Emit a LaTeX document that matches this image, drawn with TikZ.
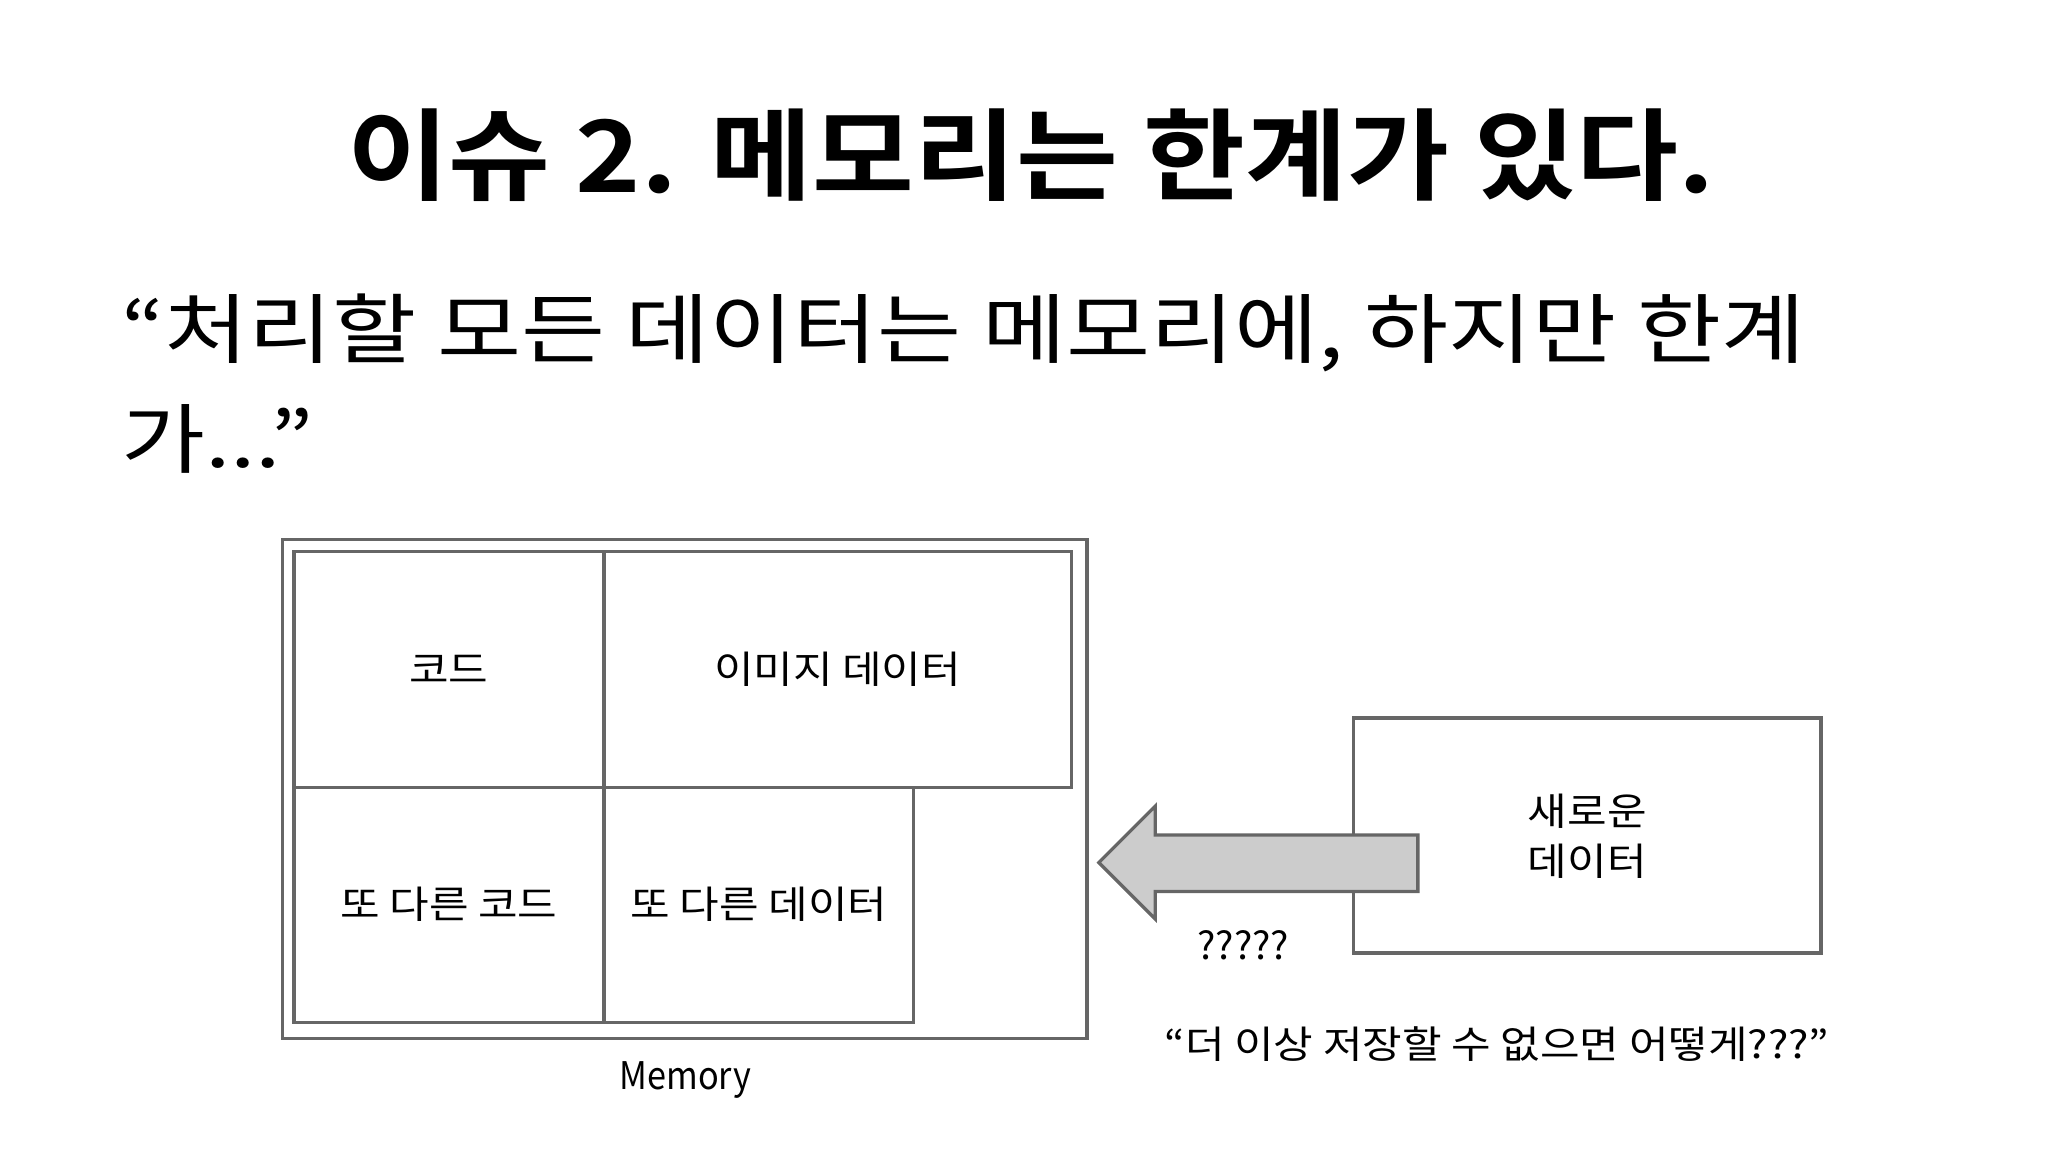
\documentclass[tikz,border=0pt]{standalone}
\usepackage{fontspec}
\setmainfont{Noto Sans CJK KR}
\newfontfamily\kb{Noto Sans CJK KR Bold}
\begin{document}
\begin{tikzpicture}[x=1pt,y=-1pt,
  cell/.style={draw=black!60,line width=2.5pt},
  wide/.style={transform shape,xscale=#1},
  lbl/.style={font=\fontsize{29}{35}\selectfont,align=center,wide=1.13}]
\useasboundingbox (0,0) rectangle (1560,878);
\node[font=\kb\fontsize{76}{80}\selectfont,wide=1.11] (title) at (785,118) {이슈 2. 메모리는 한계가 있다.};
\node[anchor=north west,align=left,font=\fontsize{58}{84}\selectfont,wide=1.2] (quote) at (88,220) {“처리할 모든 데이터는 메모리에, 하지만 한계\\가...”};
\draw[cell] (215,411) rectangle (828,791);
\draw[cell] (224,420) rectangle (460,600);
\draw[cell] (460,420) rectangle (816,600);
\draw[cell] (224,600) rectangle (460,779);
\draw[cell] (460,600) rectangle (696,779);
\node[lbl] (c1) at (342,510) {코드};
\node[lbl] (c2) at (638,510) {이미지 데이터};
\node[lbl] (c3) at (342,689) {또 다른 코드};
\node[lbl] (c4) at (578,689) {또 다른 데이터};
\node[font=\fontsize{29}{35}\selectfont,transform shape,xscale=0.9] (mem) at (522,823) {Memory};
\draw[cell] (1031,547) rectangle (1387,726);
\node[lbl,font=\fontsize{29}{38}\selectfont] (new) at (1209,637) {새로운\\데이터};
\draw[cell,fill=black!20] (1080,636) -- (880,636) -- (880,614) -- (837,657) -- (880,700) -- (880,679) -- (1080,679) -- cycle;
\node[lbl,wide=0.9] (q) at (947,720) {?????};
\node[lbl] (q2) at (1140,795) {“더 이상 저장할 수 없으면 어떻게???”};
\end{tikzpicture}
\end{document}
